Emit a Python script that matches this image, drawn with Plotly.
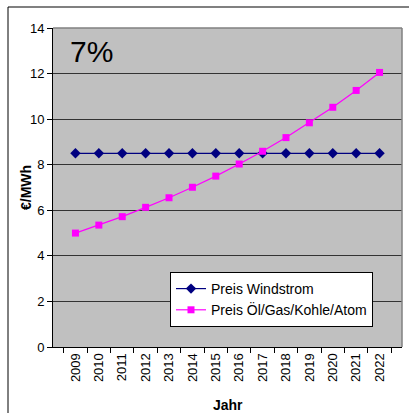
import plotly.graph_objects as go

years = ["2009", "2010", "2011", "2012", "2013", "2014", "2015",
         "2016", "2017", "2018", "2019", "2020", "2021", "2022"]
wind_price = [8.5, 8.5, 8.5, 8.5, 8.5, 8.5, 8.5,
              8.5, 8.5, 8.5, 8.5, 8.5, 8.5, 8.5]
fossil_price = [5.0, 5.35, 5.72, 6.13, 6.55, 7.01, 7.5,
                8.03, 8.59, 9.19, 9.84, 10.52, 11.26, 12.05]

W, H = 409, 413
L, R, T, B = 53, 7, 28, 66
pw, ph = W - L - R, H - T - B


def px_x(p):
    return (p - L) / pw


def px_y(p):
    return (H - B - p) / ph


font = "Liberation Sans, Arial, sans-serif"

fig = go.Figure()
fig.add_trace(go.Scatter(
    x=years, y=wind_price, name="Preis Windstrom", mode="lines+markers",
    line=dict(color="#000080", width=1.2),
    marker=dict(symbol="diamond", size=8, color="#000080"),
    legendgroup="a",
))
fig.add_trace(go.Scatter(
    x=years, y=fossil_price, name="Preis Öl/Gas/Kohle/Atom", mode="lines+markers",
    line=dict(color="#FF00FF", width=1.2),
    marker=dict(symbol="square", size=7, color="#FF00FF"),
    legendgroup="b",
))

fig.update_layout(
    width=W, height=H,
    margin=dict(l=L, r=R, t=T, b=B),
    paper_bgcolor="white",
    plot_bgcolor="#C0C0C0",
    font=dict(family=font, size=13, color="black"),
    showlegend=True,
    legend=dict(
        x=px_x(170), y=px_y(272), xanchor="left", yanchor="top",
        bgcolor="white", bordercolor="black", borderwidth=1,
        font=dict(size=14), tracegroupgap=0,
    ),
    xaxis=dict(
        type="category", tickson="boundaries", ticks="outside", ticklen=5,
        tickcolor="black", tickangle=-90, showline=True, linecolor="black",
        linewidth=1, showgrid=False, mirror=False,
        tickfont=dict(size=13),
    ),
    yaxis=dict(
        range=[0, 14], dtick=2, ticks="outside", ticklen=5, tickcolor="black",
        showline=True, linecolor="black", linewidth=1,
        showgrid=True, gridcolor="#333333", gridwidth=1,
        zeroline=False,
        tickfont=dict(size=13),
    ),
    annotations=[
        dict(text="7%", x=px_x(68), y=px_y(52), xref="paper", yref="paper",
             xanchor="left", yanchor="middle", showarrow=False,
             font=dict(size=30, color="black")),
        # axis titles
        dict(text="<b>€/MWh</b>", x=px_x(26), y=px_y(188), xref="paper",
             yref="paper", xanchor="center", yanchor="middle", textangle=-90,
             showarrow=False, font=dict(size=14)),
        dict(text="<b>Jahr</b>", x=px_x(228), y=px_y(405), xref="paper",
             yref="paper", xanchor="center", yanchor="middle",
             showarrow=False, font=dict(size=14)),
    ],
    shapes=[
        # plot-area frame on the top and right
        dict(type="line", xref="paper", yref="paper", x0=0, x1=1, y0=1, y1=1,
             line=dict(color="#808080", width=1.5)),
        dict(type="line", xref="paper", yref="paper", x0=1, x1=1, y0=0, y1=1,
             line=dict(color="#808080", width=1.5)),
        # outer chart border
        dict(type="line", xref="paper", yref="paper",
             x0=px_x(8), x1=px_x(409), y0=px_y(7), y1=px_y(7),
             line=dict(color="#808080", width=2)),
        dict(type="line", xref="paper", yref="paper",
             x0=px_x(8), x1=px_x(8), y0=px_y(7), y1=px_y(413),
             line=dict(color="black", width=1)),
    ],
)

fig.write_html("out.html")
